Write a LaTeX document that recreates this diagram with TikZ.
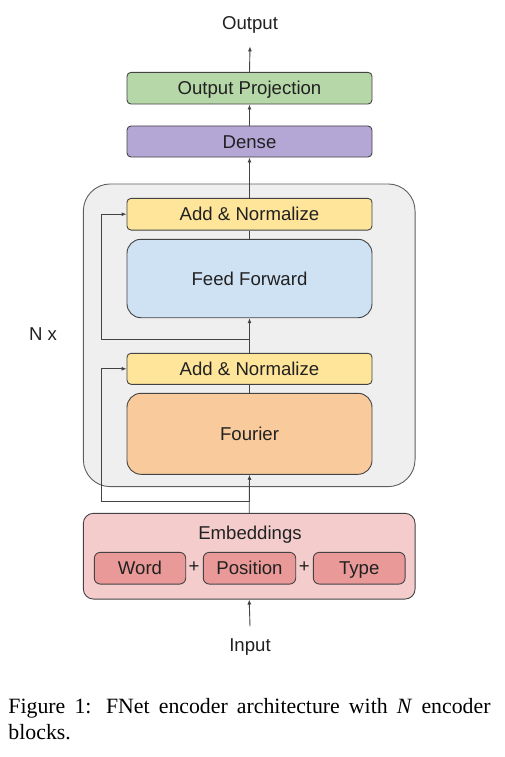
\documentclass[tikz,border=0pt]{standalone}
\usepackage{fontspec}
\setmainfont{Liberation Sans}
\newfontfamily\capfont{Liberation Serif}
\usepackage{xcolor}
\usepackage{tikz}
\usetikzlibrary{arrows.meta, positioning, calc}
\definecolor{projc}{RGB}{182,215,168}
\definecolor{densec}{RGB}{180,167,214}
\definecolor{normc}{RGB}{255,229,153}
\definecolor{ffc}{RGB}{207,226,243}
\definecolor{fourc}{RGB}{249,203,156}
\definecolor{embc}{RGB}{244,204,204}
\definecolor{tokc}{RGB}{234,153,153}
\definecolor{encbg}{RGB}{239,239,239}
\definecolor{edge}{RGB}{67,67,67}
\definecolor{ink}{RGB}{33,33,33}

\begin{document}
\begin{tikzpicture}[x=1pt, y=-1pt,
  txt/.style={font=\fontsize{18.6}{22}\selectfont, text=ink, inner sep=0pt},
  lbl/.style={txt, anchor=base, outer sep=12.5pt},
  blk/.style={txt, draw=edge, line width=0.9pt, rounded corners=4pt,
    minimum width=245pt, minimum height=31pt, text height=13.4pt, text depth=0pt},
  tok/.style={blk, minimum width=92pt, minimum height=31.7pt, rounded corners=6pt, fill=tokc},
  arr/.style={draw=edge, line width=0.9pt, -{Latex[length=5pt, width=4pt]}},
  ln/.style={draw=edge, line width=0.9pt}]
  \useasboundingbox (0,0) rectangle (505,757);

  \node[blk, fill=encbg, draw=edge!85, minimum width=331.7pt, minimum height=302.7pt,
    rounded corners=27pt] (enc) at (249.2,335.3) {};
  \node[blk, fill=projc, minimum height=31.7pt] (proj) at (249.5,88.2) {Output Projection};
  \node[blk, fill=densec] (dense) at (249.5,141.5) {Dense};
  \node[blk, fill=normc, minimum height=31.7pt] (addA) at (249.5,214.2) {Add \& Normalize};
  \node[blk, fill=ffc, minimum height=78.4pt, rounded corners=14pt] (ff) at (249.5,278.5) {Feed Forward};
  \node[blk, fill=normc] (addB) at (249.5,368.8) {Add \& Normalize};
  \node[blk, fill=fourc, minimum height=81pt, rounded corners=14pt] (four) at (249.5,433.8) {Fourier};
  \node[blk, fill=embc, minimum width=331.7pt, minimum height=85.7pt,
    rounded corners=10pt] (emb) at (249.2,556.2) {};
  \node[txt] (embt) at (250,535) {Embeddings};
  \node[tok, minimum width=91.4pt] (word) at (140,568.2) {Word};
  \node[tok, minimum width=92.4pt] (pos) at (249.5,568.2) {Position};
  \node[tok, minimum width=91.7pt] (type) at (359.2,568.2) {Type};
  \node[txt] (plusA) at (194,567) {+};
  \node[txt] (plusB) at (304.3,567) {+};

  \node[lbl] (out) at (250,30) {Output};
  \node[lbl] (in) at (250,651.6) {Input};
  \node[txt] (nx) at (43,334) {N x};

  \coordinate (jA) at (250,339);
  \coordinate (jB) at (250,501.7);

  \draw[arr] (proj.north) -- (out.south);
  \draw[arr] (dense.north) -- (proj.south);
  \draw[arr] (addA.north) -- (dense.south);
  \draw[ln] (ff.north) -- (addA.south);
  \draw[arr] (addB.north) -- (ff.south);
  \draw[arr] (jA) -- ++(-148.3,0) |- (addA.west);
  \draw[ln] (four.north) -- (addB.south);
  \draw[arr] (emb.north) -- (four.south);
  \draw[arr] (jB) -- ++(-148.3,0) |- (addB.west);
  \draw[arr] (in.north) -- (emb.south);

  \node[anchor=north west, inner sep=0pt, text width=482pt, align=justify,
    font=\capfont\fontsize{21.8}{26}\selectfont] (cap) at (8.3,698.4)
    {Figure 1: FNet encoder architecture with \textit{N} encoder blocks.};
\end{tikzpicture}
\end{document}
